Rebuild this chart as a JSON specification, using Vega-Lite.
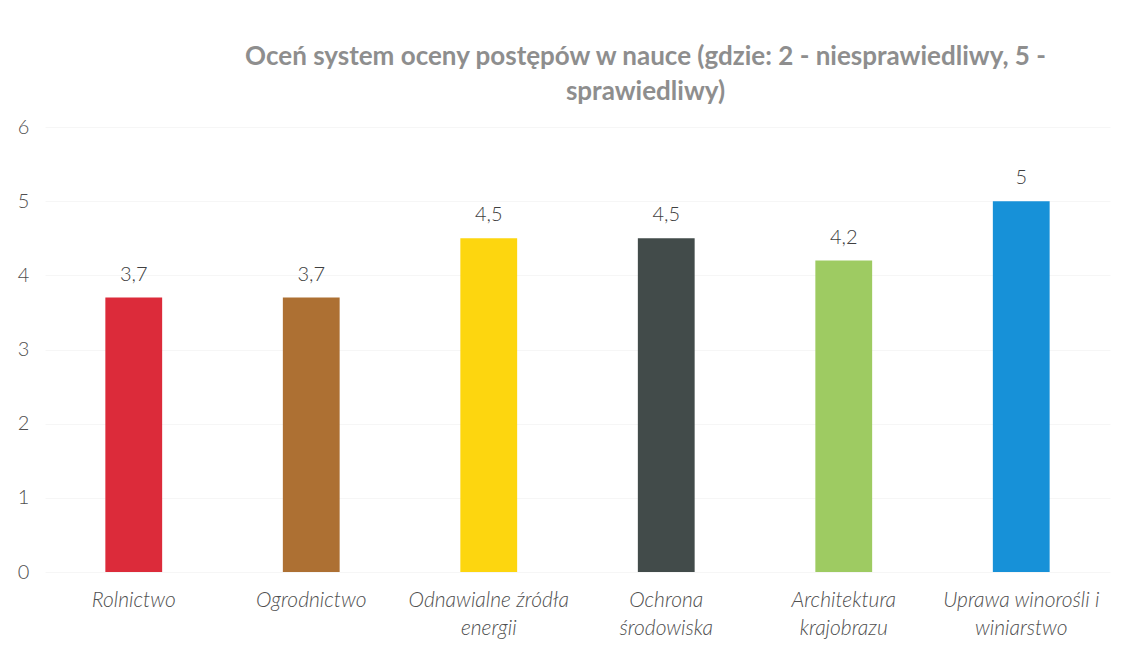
{
  "$schema": "https://vega.github.io/schema/vega-lite/v6.json",
  "autosize": {"type": "none"},
  "padding": {"left": 45, "top": 127, "right": 19, "bottom": 82},
  "width": 1065,
  "height": 445,
  "background": "white",
  "config": {
    "view": {"stroke": null},
    "locale": {"number": {"decimal": ",", "thousands": " ", "grouping": [3], "currency": ["", " zł"]}},
    "font": "Lato"
  },
  "title": {
    "text": ["Oceń system oceny postępów w nauce (gdzie: 2 - niesprawiedliwy, 5 -", "sprawiedliwy)"],
    "font": "Lato",
    "fontSize": 26,
    "fontWeight": "bold",
    "color": "#8e8e8e",
    "lineHeight": 35,
    "anchor": "middle",
    "dx": 68,
    "offset": 12
  },
  "data": {
    "values": [
      {"kierunek": "Rolnictwo", "ocena": 3.7, "kolor": "#dc2b3a"},
      {"kierunek": "Ogrodnictwo", "ocena": 3.7, "kolor": "#ad7033"},
      {"kierunek": "Odnawialne źródła energii", "ocena": 4.5, "kolor": "#fdd60f"},
      {"kierunek": "Ochrona środowiska", "ocena": 4.5, "kolor": "#424b4a"},
      {"kierunek": "Architektura krajobrazu", "ocena": 4.2, "kolor": "#9ecb62"},
      {"kierunek": "Uprawa winorośli i winiarstwo", "ocena": 5, "kolor": "#1791d8"}
    ]
  },
  "encoding": {
    "x": {
      "field": "kierunek",
      "type": "nominal",
      "sort": null,
      "scale": {"paddingInner": 0.68, "paddingOuter": 0.34},
      "axis": {
        "title": null,
        "domain": false,
        "ticks": false,
        "labelAngle": 0,
        "labelFontSize": 21,
        "labelFontStyle": "italic",
        "labelFontWeight": 300,
        "labelFont": "Lato",
        "labelColor": "#505050",
        "labelPadding": 17,
        "labelLineHeight": 28,
        "labelLimit": 300,
        "labelExpr": "datum.label == 'Odnawialne źródła energii' ? ['Odnawialne źródła', 'energii'] : datum.label == 'Ochrona środowiska' ? ['Ochrona', 'środowiska'] : datum.label == 'Architektura krajobrazu' ? ['Architektura', 'krajobrazu'] : datum.label == 'Uprawa winorośli i winiarstwo' ? ['Uprawa winorośli i', 'winiarstwo'] : datum.label"
      }
    },
    "y": {
      "field": "ocena",
      "type": "quantitative",
      "scale": {"domain": [0, 6], "nice": false},
      "axis": {
        "title": null,
        "domain": false,
        "ticks": false,
        "values": [0, 1, 2, 3, 4, 5, 6],
        "labelFontSize": 20,
        "labelFont": "Lato",
        "labelFontWeight": 300,
        "labelColor": "#505050",
        "labelPadding": 22,
        "labelAlign": "center",
        "grid": true,
        "gridColor": "#f6f6f6",
        "gridWidth": 1
      }
    }
  },
  "layer": [
    {
      "mark": {"type": "bar"},
      "encoding": {
        "color": {"field": "kolor", "type": "nominal", "scale": null, "legend": null}
      }
    },
    {
      "mark": {"type": "text", "baseline": "bottom", "dy": -13, "fontSize": 20, "fontWeight": 300, "font": "Lato", "color": "#404040"},
      "encoding": {
        "text": {"field": "ocena", "type": "quantitative", "format": ".1~f"}
      }
    }
  ]
}
